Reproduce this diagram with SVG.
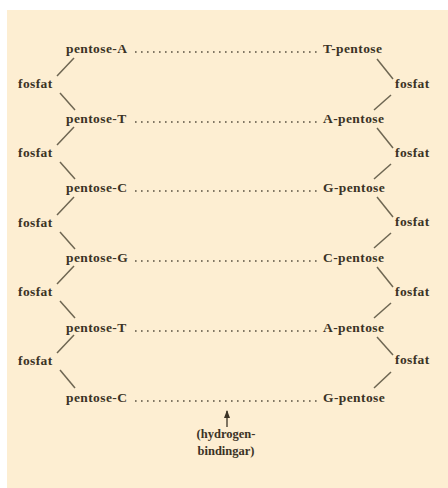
<svg xmlns="http://www.w3.org/2000/svg" width="448" height="488" viewBox="0 0 448 488">
  <defs>
    <style>
      .t { font-family: "Liberation Serif", "Times New Roman", serif; font-size: 13.5px; font-weight: bold; fill: #3b3326; letter-spacing: 0.4px; }
      .h { font-family: "Liberation Serif", "Times New Roman", serif; font-size: 12.5px; font-weight: bold; fill: #3b3326; }
      .bond { stroke: #6e6652; stroke-width: 1.5; fill: none; }
      .hb { stroke: #5a5242; stroke-width: 1.6; stroke-dasharray: 1.6 4.4; fill: none; }
    </style>
    <marker id="ah" markerWidth="8" markerHeight="6" refX="7" refY="3" orient="auto" markerUnits="userSpaceOnUse" viewBox="0 0 8 6">
      <path d="M0,0 L8,3 L0,6 Z" fill="#3b3326"/>
    </marker>
  </defs>
  <rect x="0" y="0" width="448" height="488" fill="#ffffff"/>
  <rect x="7" y="10" width="441" height="478" fill="#fdeed2"/>

  <g id="connectors">
    <!-- hydrogen bonds -->
    <line class="hb" x1="135" y1="52" x2="318" y2="52"/>
    <line class="hb" x1="135" y1="122" x2="318" y2="122"/>
    <line class="hb" x1="135" y1="191" x2="318" y2="191"/>
    <line class="hb" x1="135" y1="261" x2="318" y2="261"/>
    <line class="hb" x1="135" y1="331" x2="318" y2="331"/>
    <line class="hb" x1="135" y1="401" x2="318" y2="401"/>
    <!-- left backbone -->
    <line class="bond" x1="57" y1="76" x2="74" y2="58"/>
    <line class="bond" x1="60" y1="93" x2="75" y2="110"/>
    <line class="bond" x1="57" y1="145" x2="74" y2="127"/>
    <line class="bond" x1="60" y1="162" x2="75" y2="179"/>
    <line class="bond" x1="57" y1="215" x2="74" y2="197"/>
    <line class="bond" x1="60" y1="232" x2="75" y2="249"/>
    <line class="bond" x1="57" y1="284" x2="74" y2="266"/>
    <line class="bond" x1="60" y1="301" x2="75" y2="318"/>
    <line class="bond" x1="57" y1="353" x2="74" y2="335"/>
    <line class="bond" x1="60" y1="370" x2="75" y2="388"/>
    <!-- right backbone -->
    <line class="bond" x1="377" y1="59" x2="393" y2="79"/>
    <line class="bond" x1="391" y1="95" x2="374" y2="110"/>
    <line class="bond" x1="377" y1="128" x2="393" y2="148"/>
    <line class="bond" x1="391" y1="164" x2="374" y2="179"/>
    <line class="bond" x1="377" y1="197" x2="393" y2="217"/>
    <line class="bond" x1="391" y1="233" x2="374" y2="248"/>
    <line class="bond" x1="377" y1="267" x2="393" y2="287"/>
    <line class="bond" x1="391" y1="303" x2="374" y2="318"/>
    <line class="bond" x1="377" y1="337" x2="393" y2="355"/>
    <line class="bond" x1="391" y1="372" x2="374" y2="388"/>
    <!-- arrow -->
    <line x1="227" y1="427" x2="227" y2="411" stroke="#3b3326" stroke-width="1.3" marker-end="url(#ah)"/>
  </g>

  <g id="L1"><text class="t" x="66" y="53">pentose-A</text></g>
  <g id="L2"><text class="t" x="66" y="123">pentose-T</text></g>
  <g id="L3"><text class="t" x="66" y="192">pentose-C</text></g>
  <g id="L4"><text class="t" x="66" y="262">pentose-G</text></g>
  <g id="L5"><text class="t" x="66" y="332">pentose-T</text></g>
  <g id="L6"><text class="t" x="66" y="402">pentose-C</text></g>

  <g id="R1"><text class="t" x="323" y="53">T-pentose</text></g>
  <g id="R2"><text class="t" x="323" y="123">A-pentose</text></g>
  <g id="R3"><text class="t" x="323" y="192">G-pentose</text></g>
  <g id="R4"><text class="t" x="323" y="262">C-pentose</text></g>
  <g id="R5"><text class="t" x="323" y="332">A-pentose</text></g>
  <g id="R6"><text class="t" x="323" y="402">G-pentose</text></g>

  <g id="LF1"><text class="t" x="18" y="88">fosfat</text></g>
  <g id="LF2"><text class="t" x="18" y="157">fosfat</text></g>
  <g id="LF3"><text class="t" x="18" y="227">fosfat</text></g>
  <g id="LF4"><text class="t" x="18" y="296">fosfat</text></g>
  <g id="LF5"><text class="t" x="18" y="365">fosfat</text></g>

  <g id="RF1"><text class="t" x="395" y="88">fosfat</text></g>
  <g id="RF2"><text class="t" x="395" y="157">fosfat</text></g>
  <g id="RF3"><text class="t" x="395" y="226">fosfat</text></g>
  <g id="RF4"><text class="t" x="395" y="296">fosfat</text></g>
  <g id="RF5"><text class="t" x="395" y="364">fosfat</text></g>

  <g id="hydrogen">
    <text class="h" x="226" y="438" text-anchor="middle">(hydrogen-</text>
    <text class="h" x="226" y="455" text-anchor="middle">bindingar)</text>
  </g>
</svg>
